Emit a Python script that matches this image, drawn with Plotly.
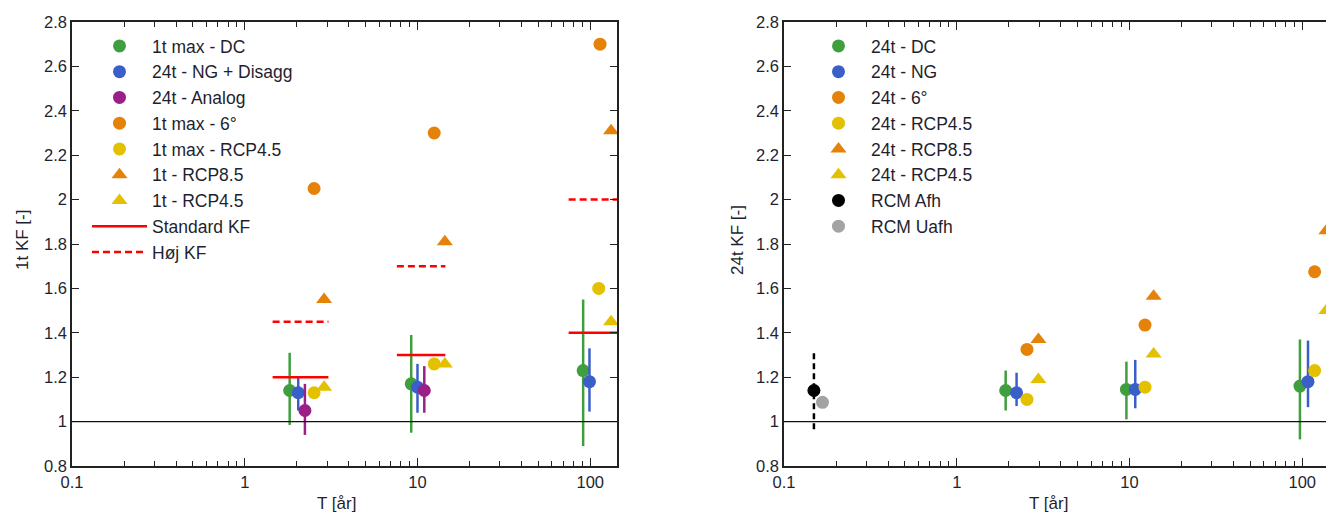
import plotly.graph_objects as go

# ---------------- data: left panel (1t) ----------------
T_dc1 = [1.82, 9.2, 91]
kf_dc1 = [1.14, 1.17, 1.23]
kf_dc1_hi = [1.31, 1.39, 1.55]
kf_dc1_lo = [0.985, 0.95, 0.89]

T_ng1 = [2.04, 10.0, 99]
kf_ng1 = [1.13, 1.155, 1.18]
kf_ng1_hi = [1.20, 1.26, 1.33]
kf_ng1_lo = [1.05, 1.04, 1.045]

T_an1 = [2.23, 10.95]
kf_an1 = [1.05, 1.14]
kf_an1_hi = [1.17, 1.25]
kf_an1_lo = [0.94, 1.04]

T_6deg1 = [2.52, 12.5, 114]
kf_6deg1 = [2.05, 2.30, 2.70]

T_rcp45c1 = [2.52, 12.5, 112]
kf_rcp45c1 = [1.13, 1.26, 1.60]

T_tri1 = [2.88, 14.4, 132]
kf_rcp85t1 = [1.55, 1.81, 2.31]
kf_rcp45t1 = [1.155, 1.26, 1.45]

kf_T_start = [1.45, 7.6, 75]
kf_T_end = [3.05, 14.5, 150]
kf_standard = [1.2, 1.3, 1.4]
kf_hoej = [1.45, 1.7, 2.0]

# ---------------- data: right panel (24t) ----------------
T_dc24 = [1.92, 9.6, 97]
kf_dc24 = [1.14, 1.145, 1.16]
kf_dc24_hi = [1.23, 1.27, 1.37]
kf_dc24_lo = [1.05, 1.01, 0.92]

T_ng24 = [2.22, 10.8, 108]
kf_ng24 = [1.13, 1.145, 1.18]
kf_ng24_hi = [1.22, 1.278, 1.365]
kf_ng24_lo = [1.07, 1.06, 1.065]

T_circ24 = [2.55, 12.3, 118]
kf_6deg24 = [1.325, 1.435, 1.675]
kf_rcp45c24 = [1.10, 1.155, 1.23]

T_tri24 = [2.97, 13.8, 138]
kf_rcp85t24 = [1.37, 1.565, 1.86]
kf_rcp45t24 = [1.19, 1.305, 1.50]

T_afh = [0.149]
kf_afh = [1.14]
kf_afh_lo = [0.965]
kf_afh_hi = [1.316]

T_uafh = [0.167]
kf_uafh = [1.087]

x_tickvals = [0.1, 1, 10, 100]
x_ticktext = ["0.1", "1", "10", "100"]
y_tickvals = [0.8, 1.0, 1.2, 1.4, 1.6, 1.8, 2.0, 2.2, 2.4, 2.6, 2.8]
y_ticktext = ["0.8", "1", "1.2", "1.4", "1.6", "1.8", "2", "2.2", "2.4", "2.6", "2.8"]

# ---------------- styling ----------------
GREEN = "#3f9f3f"
BLUE = "#3b5fc8"
PURPLE = "#9a1f86"
ORANGE = "#e5820a"
YELLOW = "#e3c000"
GRAY = "#a3a3a3"
BLACK = "#000000"
RED = "#ff0000"
FONT = "Liberation Sans, Arial, sans-serif"
TXT = "#1f1f2f"
FS_TICK = 16.5
FS_LEG = 17.5
FS_TITLE = 17
MS = 13
TS = 14

W, H = 1340, 514   # slightly wider than the window: right panel runs past the edge
def px_x(p):
    return p / W
def px_y(p):
    return (H - p) / H

fig = go.Figure()

def err(vals, hi, lo, color):
    return dict(type="data", symmetric=False,
                array=[h - v for h, v in zip(hi, vals)],
                arrayminus=[v - l for v, l in zip(vals, lo)],
                color=color, thickness=2.5, width=0)

gid = [0]
def add(trace):
    gid[0] += 1
    trace.legendgroup = "g%d" % gid[0]
    fig.add_trace(trace)

# left panel
add(go.Scatter(x=T_dc1, y=kf_dc1, mode="markers", name="1t max - DC",
               marker=dict(color=GREEN, size=MS, symbol="circle"),
               error_y=err(kf_dc1, kf_dc1_hi, kf_dc1_lo, GREEN),
               xaxis="x", yaxis="y", legend="legend"))
add(go.Scatter(x=T_ng1, y=kf_ng1, mode="markers", name="24t - NG + Disagg",
               marker=dict(color=BLUE, size=MS, symbol="circle"),
               error_y=err(kf_ng1, kf_ng1_hi, kf_ng1_lo, BLUE),
               xaxis="x", yaxis="y", legend="legend"))
add(go.Scatter(x=T_an1, y=kf_an1, mode="markers", name="24t - Analog",
               marker=dict(color=PURPLE, size=MS, symbol="circle"),
               error_y=err(kf_an1, kf_an1_hi, kf_an1_lo, PURPLE),
               xaxis="x", yaxis="y", legend="legend"))
add(go.Scatter(x=T_6deg1, y=kf_6deg1, mode="markers", name="1t max - 6°",
               marker=dict(color=ORANGE, size=MS, symbol="circle"),
               xaxis="x", yaxis="y", legend="legend"))
add(go.Scatter(x=T_rcp45c1, y=kf_rcp45c1, mode="markers", name="1t max - RCP4.5",
               marker=dict(color=YELLOW, size=MS, symbol="circle"),
               xaxis="x", yaxis="y", legend="legend"))
add(go.Scatter(x=T_tri1, y=kf_rcp85t1, mode="markers", name="1t - RCP8.5",
               marker=dict(color=ORANGE, size=TS, symbol="triangle-up"),
               xaxis="x", yaxis="y", legend="legend"))
add(go.Scatter(x=T_tri1, y=kf_rcp45t1, mode="markers", name="1t - RCP4.5",
               marker=dict(color=YELLOW, size=TS, symbol="triangle-up"),
               xaxis="x", yaxis="y", legend="legend"))

def seg_xy(starts, ends, vals):
    xs, ys = [], []
    for s, e, v in zip(starts, ends, vals):
        xs += [s, e, None]
        ys += [v, v, None]
    return xs, ys

sx, sy = seg_xy(kf_T_start, kf_T_end, kf_standard)
add(go.Scatter(x=sx, y=sy, mode="lines", name="Standard KF",
               line=dict(color=RED, width=2.5), xaxis="x", yaxis="y", legend="legend"))
hx, hy = seg_xy(kf_T_start, kf_T_end, kf_hoej)
add(go.Scatter(x=hx, y=hy, mode="lines", name="Høj KF",
               line=dict(color=RED, width=2.5, dash="7px,4px"), xaxis="x", yaxis="y", legend="legend"))

# right panel
add(go.Scatter(x=T_dc24, y=kf_dc24, mode="markers", name="24t - DC",
               marker=dict(color=GREEN, size=MS, symbol="circle"),
               error_y=err(kf_dc24, kf_dc24_hi, kf_dc24_lo, GREEN),
               xaxis="x2", yaxis="y2", legend="legend2"))
add(go.Scatter(x=T_ng24, y=kf_ng24, mode="markers", name="24t - NG",
               marker=dict(color=BLUE, size=MS, symbol="circle"),
               error_y=err(kf_ng24, kf_ng24_hi, kf_ng24_lo, BLUE),
               xaxis="x2", yaxis="y2", legend="legend2"))
add(go.Scatter(x=T_circ24, y=kf_6deg24, mode="markers", name="24t - 6°",
               marker=dict(color=ORANGE, size=MS, symbol="circle"),
               xaxis="x2", yaxis="y2", legend="legend2"))
add(go.Scatter(x=T_circ24, y=kf_rcp45c24, mode="markers", name="24t - RCP4.5",
               marker=dict(color=YELLOW, size=MS, symbol="circle"),
               xaxis="x2", yaxis="y2", legend="legend2"))
add(go.Scatter(x=T_tri24, y=kf_rcp85t24, mode="markers", name="24t - RCP8.5",
               marker=dict(color=ORANGE, size=TS, symbol="triangle-up"),
               xaxis="x2", yaxis="y2", legend="legend2"))
add(go.Scatter(x=T_tri24, y=kf_rcp45t24, mode="markers", name="24t - RCP4.5",
               marker=dict(color=YELLOW, size=TS, symbol="triangle-up"),
               xaxis="x2", yaxis="y2", legend="legend2"))
# dashed range for RCM Afh
fig.add_trace(go.Scatter(x=[T_afh[0], T_afh[0]], y=[kf_afh_lo[0], kf_afh_hi[0]], mode="lines",
                         line=dict(color=BLACK, width=2.5, dash="6px,4px"),
                         showlegend=False, hoverinfo="skip", xaxis="x2", yaxis="y2"))
add(go.Scatter(x=T_afh, y=kf_afh, mode="markers", name="RCM Afh",
               marker=dict(color=BLACK, size=MS, symbol="circle"),
               xaxis="x2", yaxis="y2", legend="legend2"))
add(go.Scatter(x=T_uafh, y=kf_uafh, mode="markers", name="RCM Uafh",
               marker=dict(color=GRAY, size=MS, symbol="circle"),
               xaxis="x2", yaxis="y2", legend="legend2"))

minor_vals = [m * 10 ** e for e in (-1, 0, 1, 2) for m in range(2, 10)]

def xaxis_cfg(domain, rng):
    return dict(type="log", domain=domain, range=rng, automargin=False,
                tickvals=x_tickvals, ticktext=x_ticktext,
                ticks="inside", ticklen=8, tickwidth=1.2, tickcolor="#222",
                minor=dict(tickvals=minor_vals, ticks="inside", ticklen=5,
                           tickwidth=1.2, tickcolor="#222", showgrid=False),
                showline=True, linecolor="#222", linewidth=1.5, mirror="allticks",
                showgrid=False, zeroline=False,
                tickfont=dict(family=FONT, size=FS_TICK, color=TXT))

def yaxis_cfg(anchor, mirror):
    return dict(range=[0.8, 2.8], domain=[px_y(466), px_y(22)], anchor=anchor,
                automargin=False,
                tickvals=y_tickvals, ticktext=y_ticktext,
                ticks="inside", ticklen=7, tickwidth=1.2, tickcolor="#222",
                showline=True, linecolor="#222", linewidth=1.5, mirror=mirror,
                showgrid=False, zeroline=False,
                tickfont=dict(family=FONT, size=FS_TICK, color=TXT))

dec = (617 - 72) / 3.155
left_dom = [px_x(72), px_x(617)]
right_dom = [px_x(784), 1.0]
right_hi = -1 + (W - 784) / dec

leg_common = dict(xanchor="left", yanchor="top", bgcolor="rgba(0,0,0,0)",
                  itemwidth=55, tracegroupgap=0, traceorder="grouped",
                  font=dict(family=FONT, size=FS_LEG, color=TXT))

def ann(text, x, y, angle=0):
    return dict(text=text, x=px_x(x), y=px_y(y), xref="paper", yref="paper",
                xanchor="center", yanchor="middle", showarrow=False, textangle=angle,
                font=dict(family=FONT, size=FS_TITLE, color=TXT))

fig.update_layout(
    width=W, height=H,
    margin=dict(l=0, r=0, t=0, b=0, autoexpand=False),
    paper_bgcolor="white", plot_bgcolor="white",
    font=dict(family=FONT, size=FS_TICK, color=TXT),
    xaxis=xaxis_cfg(left_dom, [-1, 2.155]),
    yaxis=yaxis_cfg("x", "allticks"),
    xaxis2=dict(xaxis_cfg(right_dom, [-1, right_hi]), anchor="y2"),
    yaxis2=yaxis_cfg("x2", False),
    legend=dict(leg_common, x=px_x(87), y=px_y(28)),
    legend2=dict(leg_common, x=px_x(806), y=px_y(28)),
    showlegend=True,
    shapes=[
        dict(type="line", xref="x domain", yref="y", x0=0, x1=1, y0=1, y1=1,
             line=dict(color="#111", width=1.3)),
        dict(type="line", xref="x2 domain", yref="y2", x0=0, x1=1, y0=1, y1=1,
             line=dict(color="#111", width=1.3)),
    ],
    annotations=[
        ann("T [år]", 336, 503),
        ann("T [år]", 1048, 503),
        ann("1t KF [-]", 22, 240, -90),
        ann("24t KF [-]", 737, 240, -90),
    ],
)

fig.write_html(
    "out.html",
    config={"displayModeBar": False},
    post_script="document.body.style.margin='0';document.body.style.overflow='hidden';",
)
